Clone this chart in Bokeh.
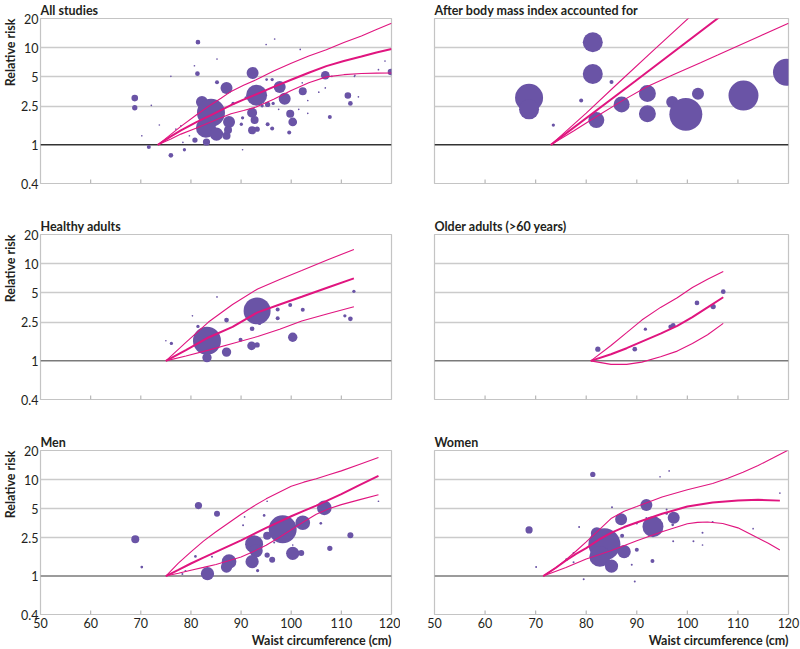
import math
from bokeh.plotting import figure
from bokeh.models import FixedTicker, Span, Title, Range1d, ColumnDataSource
from bokeh.layouts import column, row
from bokeh.embed import file_html
from bokeh.resources import INLINE

# ---------------- axes ----------------
X_TICKS = [50, 60, 70, 80, 90, 100, 110, 120]
Y_TICKS = [0.4, 1, 2.5, 5, 10, 20]
Y_TICK_LABELS = ["0.4", "1", "2.5", "5", "10", "20"]
GRID_LEVELS = [2.5, 5, 10]
X_TITLE = "Waist circumference (cm)"
Y_TITLE = "Relative risk"

# ---------------- All studies ----------------
ALL_X = [81.4, 81.3, 68.8, 68.8, 71.6, 76.0, 78.7, 80.8, 83.1, 82.2, 84.0, 83.0, 85.1, 87.1, 87.6,
         87.1, 92.3, 93.1, 92.2, 92.7, 92.2, 95.3, 97.7, 98.7, 95.3, 96.2, 99.8, 100.3, 99.6, 102.3,
         106.8, 111.3, 111.8, 119.9, 107.7, 85.2, 90.3, 90.05, 91.0, 96.2, 95.1, 94.2, 96.4, 87.4, 93.2,
         88.4,
         96.7, 95.0, 101.8, 85.2, 80.7, 76.0, 72.1, 70.2, 73.7, 78.4, 90.3, 105.5, 113.4, 112.6, 118.7,
         103.3, 103.3, 106.8, 101.5, 78.0, 77.0, 79.7, 97.5, 102.2, 108.1, 117.4, 112.7]
ALL_RR = [11.4, 5.41, 3.03, 2.41, 0.95, 0.78, 0.89, 1.12, 1.07, 2.76, 2.14, 1.50, 1.29, 1.24, 1.72,
          3.86, 5.50, 3.25, 2.14, 1.80, 1.41, 2.61, 3.95, 2.98, 1.63, 1.47, 2.09, 1.72, 1.34, 3.57,
          5.21, 3.22, 2.67, 5.63, 1.94, 4.42, 1.90, 1.63, 3.05, 4.70, 4.70, 2.52, 2.67, 1.42, 1.45,
          2.67,
          12.3, 10.8, 9.6, 7.65, 6.53, 5.08, 2.55, 1.24, 1.60, 1.06, 0.89, 3.49, 3.12, 5.08, 7.3,
          2.86, 2.11, 3.86, 2.32, 1.57, 1.45, 1.24, 2.32, 4.35, 5.08, 5.95, 5.2]
ALL_W = [5.5, 5.5, 11, 7, 4, 5.5, 2.7, 7, 13, 36, 196, 100, 44, 16, 36,
         36, 36, 110, 25, 16, 16, 7, 36, 36, 4, 4, 16, 19, 4, 16,
         19, 11, 5.5, 11, 4, 4, 2.7, 2.7, 2.7, 2.7, 1.8, 2.7, 2.7, 16, 7,
         2.7,
         0.7, 0.7, 0.7, 0.7, 0.7, 0.7, 0.7, 0.7, 0.7, 0.7, 0.7, 0.7, 0.7, 0.7, 0.7,
         0.7, 0.7, 0.7, 0.7, 0.7, 0.7, 0.7, 0.7, 0.7, 0.7, 0.7, 0.7]
ALL_FIT_X = [73.4, 76, 78, 81, 83.6, 86, 88, 90.5, 93, 96.5, 100, 103.5, 107, 110.5, 114, 117, 120]
ALL_FIT = [1, 1.22, 1.41, 1.70, 1.98, 2.28, 2.57, 2.92, 3.31, 3.95, 4.68, 5.53, 6.46, 7.30, 8.13, 8.95, 9.70]
ALL_UP = [1, 1.28, 1.55, 2.02, 2.51, 3.02, 3.55, 4.10, 4.68, 5.75, 6.92, 8.20, 9.55, 11.3, 13.2, 15.4, 17.9]
ALL_LO = [1, 1.15, 1.29, 1.48, 1.69, 1.90, 2.09, 2.26, 2.45, 2.95, 3.63, 4.35, 5.01, 5.28, 5.43, 5.48, 5.50]

# ---------------- After body mass index accounted for ----------------
BMI_X = [68.7, 68.7, 73.5, 79.0, 81.3, 81.3, 85.0, 82.0, 87.0, 92.1, 92.1, 97.0, 99.7, 102.1, 111.1, 119.6]
BMI_RR = [3.05, 2.32, 1.60, 2.87, 11.4, 5.37, 4.45, 1.80, 2.61, 3.38, 2.09, 2.76, 2.06, 3.35, 3.22, 5.59]
BMI_W = [196, 100, 2.7, 4, 100, 100, 4, 64, 64, 72, 72, 36, 272, 36, 225, 182]
BMI_FIT_X = [73.0, 89.6, 106.5]
BMI_FIT = [1, 4.49, 21]
BMI_UP_X = [73.0, 80.0, 86.65, 93.5, 100.6]
BMI_UP = [1, 2.12, 4.49, 9.6, 21]
BMI_LO_X = [73.0, 77.5, 82.2, 87.0, 92.1, 97.3, 102.6, 106.0, 109.2, 114.5, 120.0]
BMI_LO = [1, 1.39, 1.98, 2.82, 3.98, 5.30, 7.0, 8.4, 10.0, 13.3, 17.9]

# ---------------- Healthy adults ----------------
HA_X = [83.2, 83.2, 87.1, 93.2, 92.1, 93.2, 100.3, 87.1, 92.2, 89.9, 81.4, 76.1, 97.3, 99.8, 97.3,
        102.3, 93.7, 110.7, 111.8, 112.5, 85.2, 80.3, 75.0]
HA_RR = [1.61, 1.08, 1.23, 3.27, 1.43, 1.46, 1.75, 2.63, 2.14, 1.65, 2.26, 1.51, 3.38, 3.77, 2.75,
         3.35, 2.43, 2.91, 2.71, 5.2, 4.55, 2.91, 1.61]
HA_W = [196, 22, 22, 182, 19, 7, 22, 5.5, 5.5, 4, 2.7, 2.7, 4, 4, 4,
        4, 2.7, 2.7, 5.5, 2.7, 0.7, 0.7, 0.7]
HA_FIT_X = [75, 79, 83.5, 88.3, 93.3, 97.7, 102.1, 107.3, 112.5]
HA_FIT = [1, 1.29, 1.74, 2.24, 3.16, 3.80, 4.57, 5.70, 7.06]
HA_UP = [1, 1.55, 2.51, 3.80, 5.50, 6.90, 8.51, 11.0, 14.0]
HA_LO = [1, 1.12, 1.29, 1.51, 1.78, 2.12, 2.57, 3.05, 3.60]

# ---------------- Older adults ----------------
OA_X = [82.3, 89.6, 91.7, 96.7, 97.2, 101.9, 105.1, 107.1]
OA_RR = [1.32, 1.32, 2.12, 2.24, 2.32, 3.95, 3.62, 5.16]
OA_W = [7, 5.5, 2.7, 5.5, 5.5, 5.5, 7, 5.5]
OA_FIT_X = [80.9, 84.9, 88, 91, 94.7, 98, 101, 104, 107.1]
OA_FIT = [1, 1.17, 1.35, 1.58, 1.91, 2.29, 2.82, 3.55, 4.52]
OA_UP = [1, 1.44, 1.95, 2.63, 3.55, 4.47, 5.69, 6.92, 8.32]
OA_LO = [1, 0.92, 0.92, 0.97, 1.10, 1.26, 1.51, 1.86, 2.43]

# ---------------- Men ----------------
MEN_X = [68.9, 70.2, 81.5, 85.2, 83.3, 87.6, 87.1, 92.6, 93.0, 92.2, 93.3, 95.2, 95.2, 96.2, 98.3,
         100.3, 102.0, 102.3, 106.6, 107.7, 111.8, 105.9, 94.6, 90.4, 80.9, 84.2, 78.3, 117.4, 90.7, 95.2,
         96.6, 100.3, 78.9]
MEN_RR = [2.41, 1.24, 5.38, 4.42, 1.06, 1.41, 1.24, 2.14, 1.83, 1.41, 1.14, 2.61, 1.65, 1.48, 3.05,
          1.72, 1.73, 3.57, 5.09, 1.94, 2.65, 3.52, 4.25, 3.36, 1.60, 1.59, 1.05, 5.96, 4.10, 5.96,
          2.23, 2.10, 1.13]
MEN_W = [16, 1.8, 13, 9, 44, 54, 32, 81, 44, 44, 2.7, 16, 7, 9, 196,
         44, 9, 54, 54, 7, 9, 1.8, 1.8, 1, 1.8, 1, 1, 0.7, 0.7, 0.7,
         1, 0.7, 1]
MEN_FIT_X = [75, 77.5, 80, 82.5, 85, 87.5, 90, 92.5, 95, 97.5, 100, 102.5, 105, 107.5, 110, 113.7, 117.4]
MEN_FIT = [1, 1.16, 1.35, 1.55, 1.78, 2.04, 2.34, 2.72, 3.16, 3.63, 4.17, 4.74, 5.37, 6.17, 7.08, 8.80, 10.9]
MEN_UP = [1, 1.36, 1.78, 2.30, 2.88, 3.55, 4.37, 5.30, 6.31, 7.35, 8.51, 9.40, 10.2, 11.2, 12.3, 14.4, 16.9]
MEN_LO = [1, 1.07, 1.15, 1.23, 1.32, 1.44, 1.58, 1.80, 2.09, 2.50, 3.02, 3.65, 4.37, 4.98, 5.50, 6.20, 6.97]

# ---------------- Women ----------------
WOM_X = [68.7, 70.1, 81.3, 82.1, 83.6, 82.7, 85.0, 86.9, 87.5, 87.1, 90.0, 91.9, 93.2, 97.3, 93.1,
         85.1, 78.6, 77.5, 77.5, 76.1, 79.5, 89.6, 89.0, 94.6, 96.4, 95.9, 95.9, 97.1, 97.2, 101.2,
         103.0, 103.0, 105.0, 113.0, 118.3, 91.9, 90.0]
WOM_RR = [3.01, 1.24, 11.3, 2.78, 2.14, 1.60, 1.27, 3.87, 1.79, 2.61, 1.87, 5.46, 3.25, 4.02, 1.43,
          5.16, 3.23, 1.73, 1.39, 1.48, 0.93, 0.88, 1.31, 10.7, 12.3, 4.89, 4.46, 3.40, 2.30, 2.30,
          2.82, 2.10, 3.63, 3.10, 7.25, 4.0, 3.5]
WOM_W = [13, 1, 7, 36, 256, 110, 44, 36, 44, 4, 4, 36, 110, 36, 4,
         1, 1, 1, 1, 1.8, 1, 1, 1, 0.7, 0.7, 1, 1.8, 1.8, 1, 1,
         1, 0.7, 1, 0.7, 0.7, 1, 1]
WOM_FIT_X = [71.5, 74, 76, 78, 80, 82.5, 85, 87.5, 90, 95, 100, 105, 110, 114, 118.3]
WOM_FIT = [1, 1.22, 1.45, 1.70, 1.95, 2.38, 2.82, 3.22, 3.59, 4.42, 5.25, 5.78, 6.07, 6.17, 6.05]
WOM_UP_X = [71.5, 74, 76, 78, 80, 82.5, 85, 87.5, 90, 95, 100, 105, 108, 111, 114, 117, 119.8]
WOM_UP = [1, 1.22, 1.48, 1.82, 2.26, 3.00, 3.98, 4.70, 5.25, 6.61, 7.85, 9.12, 10.3, 11.9, 14.0, 16.8, 20.0]
WOM_LO_X = [71.5, 76, 80, 85, 90, 95, 100, 102, 104, 107, 110, 113, 116, 118.3]
WOM_LO = [1, 1.23, 1.50, 1.84, 2.32, 2.88, 3.49, 3.60, 3.63, 3.51, 3.16, 2.63, 2.19, 1.86]

FONT = "Lato"
PURPLE = "#6a54a6"
MAGENTA = "#e0157f"
TEXT = "#231f20"
FIG_W = 400
FRAME_W = 354
TOP = 17
TICK_LEN = 4  # px, inward tick marks on the bottom edge


def panel(title, xs, rr, w, fit, up, lo, left_col, bottom_row, ref_color):
    frame_h = 165 if bottom_row else 166
    height = TOP + frame_h + (34 if bottom_row else 33)
    mb_left = 37 if left_col else 34
    p = figure(width=FIG_W, height=height,
               x_range=Range1d(X_TICKS[0], X_TICKS[-1]),
               y_range=Range1d(Y_TICKS[0], Y_TICKS[-1]),
               y_axis_type="log", output_backend="svg",
               toolbar_location=None, tools="",
               min_border_left=mb_left,
               min_border_right=FIG_W - mb_left - FRAME_W,
               min_border_top=TOP,
               min_border_bottom=height - TOP - frame_h)
    p.title.text = title
    p.title.text_font = FONT
    p.title.text_font_size = "12.5px"
    p.title.text_font_style = "bold"
    p.title.text_color = TEXT
    p.title.align = "left"
    p.title.standoff = 1
    p.outline_line_color = "#c4c4c4"
    p.outline_line_width = 1.2

    # y axis
    ya = p.yaxis[0]
    ya.ticker = FixedTicker(ticks=Y_TICKS)
    ya.major_label_overrides = {t: l for t, l in zip(Y_TICKS, Y_TICK_LABELS)}
    ya.axis_line_color = None
    ya.major_tick_line_color = None
    ya.major_tick_out = 0
    ya.major_tick_in = 0
    ya.minor_tick_line_color = None
    ya.minor_tick_out = 0
    ya.major_label_text_font = FONT
    ya.major_label_text_font_size = "12.5px"
    ya.major_label_text_color = TEXT
    ya.major_label_standoff = 2
    if left_col:
        # y title placed to the left of the tick labels, aligned to the top of the frame
        yt = Title(text=Y_TITLE, align="right", text_font=FONT, text_font_size="12.5px",
                   text_font_style="bold", text_color=TEXT, standoff=1)
        p.add_layout(yt, "left")
    else:
        ya.visible = False

    # x axis
    xa = p.xaxis[0]
    xa.ticker = FixedTicker(ticks=X_TICKS)
    xa.axis_line_color = None
    xa.major_tick_line_color = None
    xa.major_tick_out = 0
    xa.major_tick_in = 0
    xa.minor_tick_line_color = None
    xa.minor_tick_out = 0
    if bottom_row:
        xa.major_label_text_font = FONT
        xa.major_label_text_color = TEXT
        xa.major_label_text_font_size = "12.5px"
        xa.major_label_standoff = 3
        t = Title(text=X_TITLE, align="right", text_font=FONT, text_font_size="12.5px",
                  text_font_style="bold", text_color=TEXT, standoff=1)
        p.add_layout(t, "below")
    else:
        xa.visible = False

    # grid
    p.xgrid.grid_line_color = None
    p.ygrid.ticker = FixedTicker(ticks=GRID_LEVELS)
    p.ygrid.grid_line_color = "#cbcbcb"
    p.ygrid.grid_line_width = 1.5

    p.add_layout(Span(location=1, dimension="width", line_color=ref_color,
                      line_width=1.5, level="underlay"))

    # inward tick marks along the bottom edge, from the x ticker values
    y0 = Y_TICKS[0]
    decades = math.log10(Y_TICKS[-1]) - math.log10(Y_TICKS[0])
    y1 = y0 * 10 ** (TICK_LEN * decades / frame_h)
    inner = X_TICKS[1:-1]
    p.segment(x0=inner, y0=[y0] * len(inner), x1=inner, y1=[y1] * len(inner),
              line_color="#b8b8b8", line_width=1.2)

    src = ColumnDataSource(dict(x=xs, y=rr, s=[2 * math.sqrt(v) for v in w]))
    p.scatter("x", "y", size="s", source=src, fill_color=PURPLE, line_color=None)

    for (fx, fy), lw in zip([lo, up, fit], [1.1, 1.1, 2.0]):
        p.line(fx, fy, line_color=MAGENTA, line_width=lw)
    return p


f1 = panel("All studies", ALL_X, ALL_RR, ALL_W,
           (ALL_FIT_X, ALL_FIT), (ALL_FIT_X, ALL_UP), (ALL_FIT_X, ALL_LO),
           True, False, "#333333")
f2 = panel("After body mass index accounted for", BMI_X, BMI_RR, BMI_W,
           (BMI_FIT_X, BMI_FIT), (BMI_UP_X, BMI_UP), (BMI_LO_X, BMI_LO),
           False, False, "#333333")
f3 = panel("Healthy adults", HA_X, HA_RR, HA_W,
           (HA_FIT_X, HA_FIT), (HA_FIT_X, HA_UP), (HA_FIT_X, HA_LO),
           True, False, "#7a7a7a")
f4 = panel("Older adults (>60 years)", OA_X, OA_RR, OA_W,
           (OA_FIT_X, OA_FIT), (OA_FIT_X, OA_UP), (OA_FIT_X, OA_LO),
           False, False, "#7a7a7a")
f5 = panel("Men", MEN_X, MEN_RR, MEN_W,
           (MEN_FIT_X, MEN_FIT), (MEN_FIT_X, MEN_UP), (MEN_FIT_X, MEN_LO),
           True, True, "#7a7a7a")
f6 = panel("Women", WOM_X, WOM_RR, WOM_W,
           (WOM_FIT_X, WOM_FIT), (WOM_UP_X, WOM_UP), (WOM_LO_X, WOM_LO),
           False, True, "#7a7a7a")

layout = column(row(f1, f2), row(f3, f4), row(f5, f6))

open("out.html", "w").write(file_html(layout, INLINE))
